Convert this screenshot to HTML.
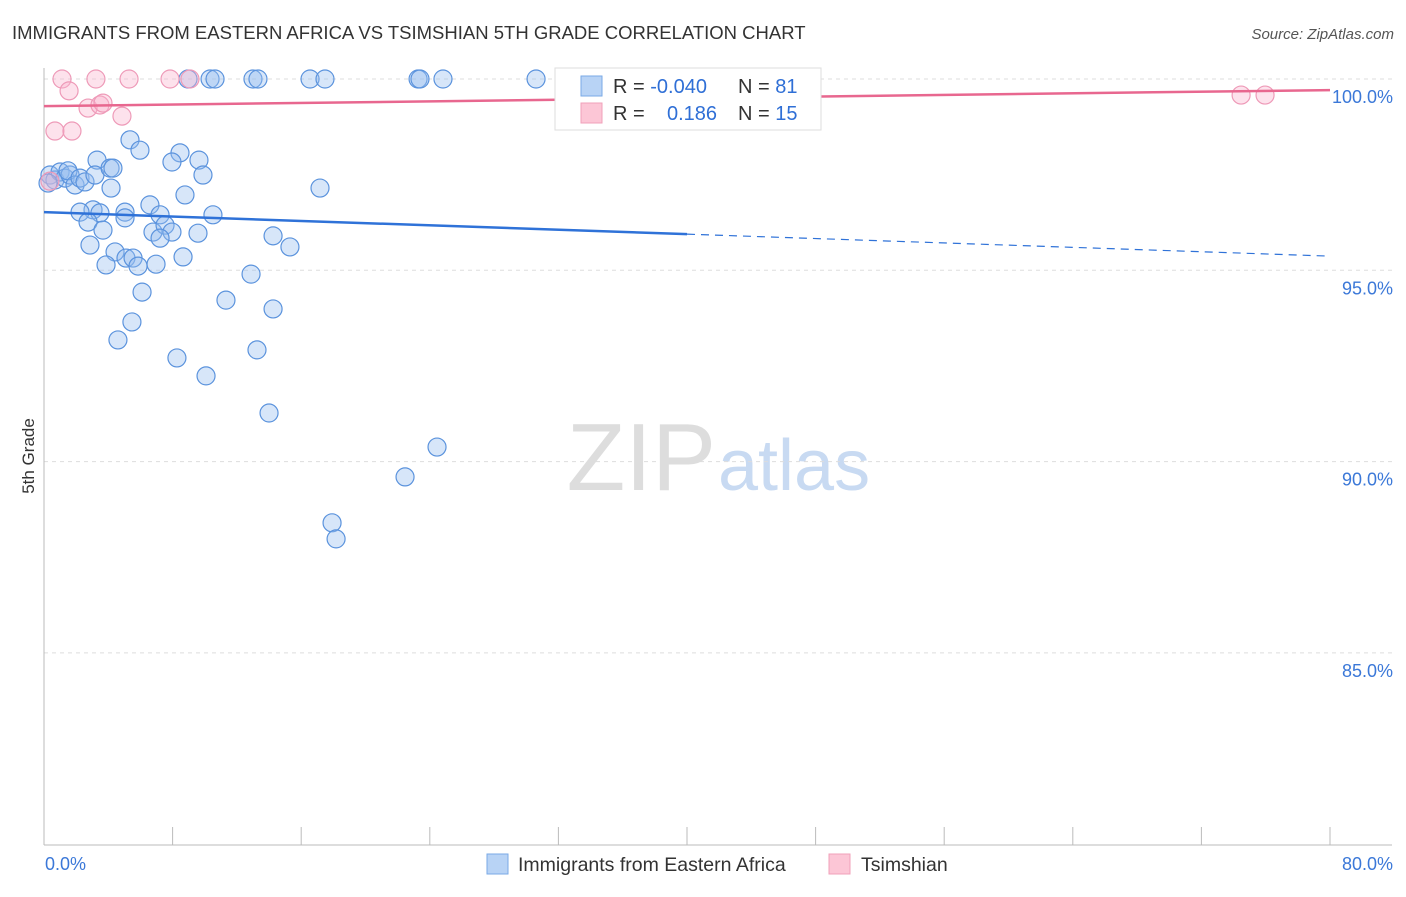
<!DOCTYPE html>
<html><head><meta charset="utf-8"><style>
body{margin:0;background:#fff;font-family:"Liberation Sans",sans-serif;}
svg text{font-family:"Liberation Sans",sans-serif;}
</style></head><body>
<svg id="chart" width="1406" height="892">
<text x="12" y="39" font-size="18.5" fill="#333">IMMIGRANTS FROM EASTERN AFRICA VS TSIMSHIAN 5TH GRADE CORRELATION CHART</text>
<text x="1394" y="39" font-size="15" fill="#555" text-anchor="end" font-style="italic">Source: ZipAtlas.com</text>
<text x="716" y="490" font-size="96" fill="#ddd" text-anchor="end" font-family="Liberation Serif">ZIP</text>
<text x="718" y="490" font-size="72" fill="#c8daf2">atlas</text>
<text transform="translate(34,456) rotate(-90)" font-size="17" fill="#333" text-anchor="middle">5th Grade</text>
<g id="grid"></g><g id="marks"></g>
<g>
<rect x="555" y="68" width="266" height="62" fill="#fff" stroke="#ddd"/>
<rect x="581" y="76" width="21" height="20" fill="#b8d3f5" stroke="#7aaae6"/>
<rect x="581" y="103" width="21" height="20" fill="#fcc6d6" stroke="#f0a0ba"/>
<text x="613" y="93" font-size="20" fill="#333">R = <tspan fill="#2f6fd6">-0.040</tspan></text>
<text x="738" y="93" font-size="20" fill="#333">N = <tspan fill="#2f6fd6">81</tspan></text>
<text x="613" y="120" font-size="20" fill="#333">R = <tspan x="667" fill="#2f6fd6">0.186</tspan></text>
<text x="738" y="120" font-size="20" fill="#333">N = <tspan fill="#2f6fd6">15</tspan></text>
</g>
<g>
<rect x="487" y="854" width="21" height="20" fill="#b8d3f5" stroke="#7aaae6"/>
<text x="518" y="871" font-size="19.5" fill="#333">Immigrants from Eastern Africa</text>
<rect x="829" y="854" width="21" height="20" fill="#fcc6d6" stroke="#f0a0ba"/>
<text x="861" y="871" font-size="19.5" fill="#333">Tsimshian</text>
</g>
</svg>
<script>
const yTicks=[100,95,90,85];
const yTickLabels=["100.0%","95.0%","90.0%","85.0%"];
const xTickLabels=["0.0%","80.0%"];
const blueX=[0.37,0.68,1.0,1.31,1.62,1.49,1.93,2.24,2.55,3.30,3.17,4.11,4.29,4.17,5.35,5.97,8.46,7.96,9.64,9.89,8.77,6.59,7.22,10.51,3.05,2.24,3.48,5.04,5.04,2.74,3.67,6.78,7.53,7.96,7.22,9.58,2.86,4.42,5.10,5.54,5.85,6.97,3.86,8.65,6.10,11.32,12.88,14.25,15.30,17.17,14.25,5.47,4.60,8.27,13.25,10.08,14.00,24.45,22.46,17.92,18.17,8.96,10.33,10.64,13.0,13.31,16.55,17.48,23.27,23.39,24.82,30.61,33.03,0.25];
const blueY=[97.49,97.36,97.57,97.41,97.49,97.60,97.23,97.41,97.31,97.88,97.49,97.67,97.67,97.15,98.41,98.14,98.07,97.83,97.88,97.49,96.97,96.71,96.45,96.45,96.58,96.52,96.50,96.52,96.37,96.26,96.05,96.00,96.18,96.00,95.84,95.97,95.66,95.48,95.32,95.32,95.11,95.16,95.14,95.35,94.43,94.22,94.90,95.90,95.61,97.15,93.99,93.65,93.18,92.71,92.92,92.24,91.27,90.38,89.60,88.40,87.98,100,100,100,100,100,100,100,100,100,100,100,100,97.28];
const pinkX=[1.12,3.23,5.29,7.84,9.08,1.56,2.74,3.48,4.85,0.68,1.74,74.47,75.96,0.37,3.67];
const pinkY=[100,100,100,100,100,99.69,99.24,99.32,99.03,98.64,98.64,99.58,99.58,97.33,99.37];
const blueTrend=[96.52,95.37];
const pinkTrend=[99.29,99.71];
const NS="http://www.w3.org/2000/svg";
const X0=44,X1=1330,XMAX=80;
function sx(v){return X0+v/XMAX*(X1-X0);}
function sy(v){return 79+(100-v)*38.26;}
function mk(t,a,p){const e=document.createElementNS(NS,t);for(const k in a)e.setAttribute(k,a[k]);p.appendChild(e);return e;}
const grid=document.getElementById('grid'),marks=document.getElementById('marks');
yTicks.forEach((t,i)=>{
 const l=mk('line',{x1:X0,x2:1392,y1:sy(t),y2:sy(t),stroke:'#ddd','stroke-dasharray':'4,4'},grid);
 
 
 const tx=mk('text',{x:1393,y:sy(t)+24,'font-size':18,fill:'#3b78d8','text-anchor':'end'},grid);
 tx.textContent=yTickLabels[i];
 
 
});
const ax=mk('line',{x1:X0,x2:X0,y1:68,y2:845,stroke:'#bbb'},grid);


const bx=mk('line',{x1:X0,x2:1392,y1:845,y2:845,stroke:'#bbb'},grid);


for(let i=0;i<=10;i++){const t=mk('line',{x1:sx(i*8),x2:sx(i*8),y1:827,y2:845,stroke:'#bbb'},grid);
 
 }
[[0,xTickLabels[0],'start',45],[80,xTickLabels[1],'end',1393]].forEach(a=>{
 const t=mk('text',{x:a[3],y:870,'font-size':18,fill:'#3b78d8','text-anchor':a[2]},grid);t.textContent=a[1];
 
 });
blueX.forEach((x,i)=>{const c=mk('circle',{cx:sx(x),cy:sy(blueY[i]),r:9,fill:'rgba(150,190,240,0.38)',stroke:'#5b93dd','stroke-width':1.2},marks);
 
 });
pinkX.forEach((x,i)=>{const c=mk('circle',{cx:sx(x),cy:sy(pinkY[i]),r:9,fill:'rgba(250,180,205,0.38)',stroke:'#ee9ab8','stroke-width':1.2},marks);
 
 });
const bm=(blueTrend[0]+blueTrend[1])/2;
const t1=mk('line',{x1:sx(0),y1:sy(blueTrend[0]),x2:sx(40),y2:sy(bm),stroke:'#2f72d8','stroke-width':2.5},marks);


const t2=mk('line',{x1:sx(40),y1:sy(bm),x2:sx(80),y2:sy(blueTrend[1]),stroke:'#2f72d8','stroke-width':1.2,'stroke-dasharray':'8,6'},marks);


const t3=mk('line',{x1:sx(0),y1:sy(pinkTrend[0]),x2:sx(80),y2:sy(pinkTrend[1]),stroke:'#e8678f','stroke-width':2.5},marks);


</script>
</body></html>
